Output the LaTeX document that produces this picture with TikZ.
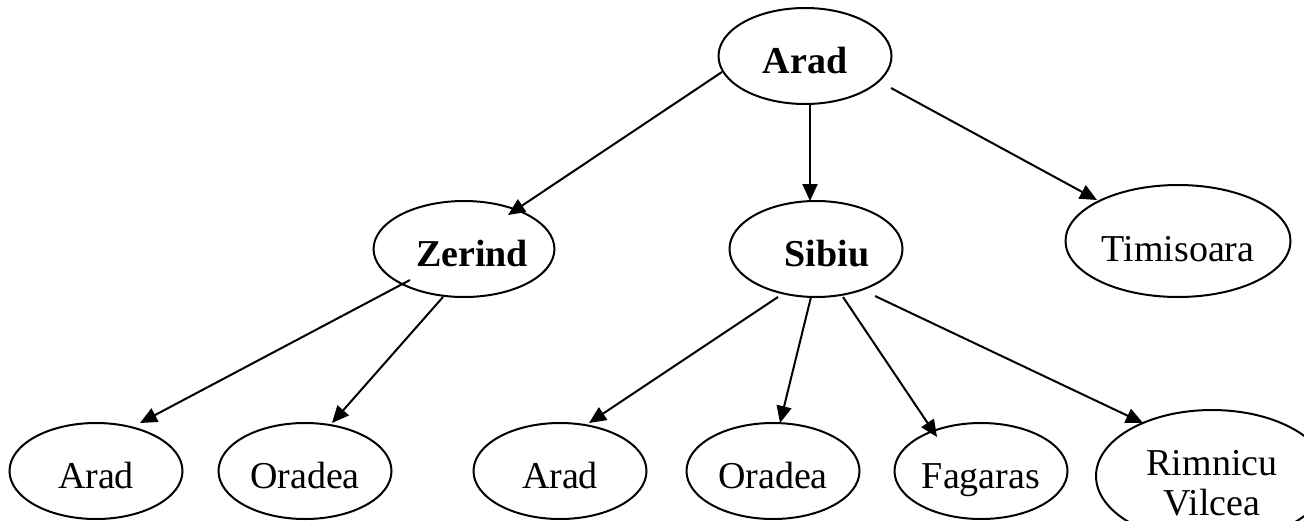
\documentclass[tikz,border=0pt]{standalone}
\usepackage{fontspec}
\setmainfont{Liberation Serif}
\usetikzlibrary{shapes.geometric,arrows.meta,calc}

\tikzset{
  city/.style={ellipse, draw, line width=2pt, inner sep=0pt,
               minimum width=173pt, minimum height=96pt,
               text height=35pt, text depth=0pt,
               font=\fontsize{38}{40}\selectfont},
  wide/.style={minimum width=225pt, minimum height=112pt, text height=41pt},
  edge/.style={line width=2pt, -{Triangle[length=17pt,width=15pt]}}
}

\begin{document}
\begin{tikzpicture}[x=1pt, y=-1pt]
  \clip (0,0) rectangle (1304,520);

  % search tree nodes
  \node[city] (A0) at (805,56)  {\bfseries Arad};
  \node[city] (Z)  at (464,249) {\hspace*{16pt}\bfseries Zerind};
  \node[city] (S)  at (816,249) {\hspace*{22pt}\bfseries Sibiu};
  \node[city, wide] (T) at (1178,241) {Timisoara};

  \node[city] (ZA) at (96,471)  {Arad};
  \node[city] (ZO) at (305,471) {Oradea};
  \node[city] (SA) at (560,471) {Arad};
  \node[city] (SO) at (773,471) {Oradea};
  \node[city] (SF) at (981,471) {Fagaras};
  \node[city, minimum width=232pt, minimum height=132pt]
       (SR) at (1212,476)
       {\begin{tabular}{@{}c@{}}Rimnicu\\Vilcea\end{tabular}};

  % expansions of the root
  \draw[edge] ($(A0)+(-83,16)$) -- ($(Z)+(44,-34)$);
  \draw[edge] ($(A0)+(5,47)$)   -- ($(S)+(-6,-48)$);
  \draw[edge] ($(A0)+(86,32)$)  -- ($(T)+(-81,-41)$);

  % expansions of Zerind
  \draw[edge] ($(Z)+(-54,31)$)  -- ($(ZA)+(44,-48)$);
  \draw[edge] ($(Z)+(-21,48)$)  -- ($(ZO)+(27,-48)$);

  % expansions of Sibiu
  \draw[edge] ($(S)+(-38,48)$)  -- ($(SA)+(29,-48)$);
  \draw[edge] ($(S)+(-5,48)$)   -- ($(SO)+(7,-48)$);
  \draw[edge] ($(S)+(27,48)$)   -- ($(SF)+(-44,-34)$);
  \draw[edge] ($(S)+(59,47)$)   -- ($(SR)+(-69,-53)$);
\end{tikzpicture}
\end{document}
